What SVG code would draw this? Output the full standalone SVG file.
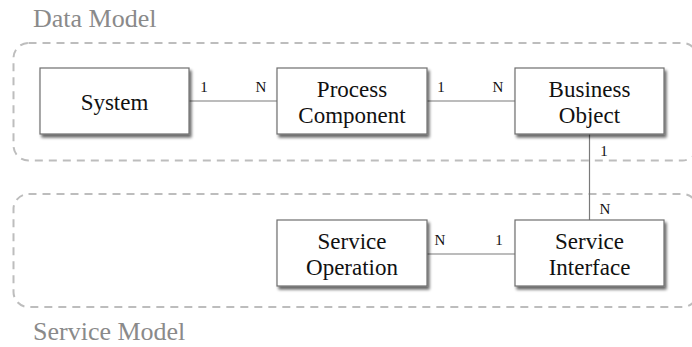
<svg xmlns="http://www.w3.org/2000/svg" width="692" height="347" viewBox="0 0 692 347">
  <defs>
    <filter id="shadow" x="-10%" y="-10%" width="130%" height="140%">
      <feGaussianBlur in="SourceAlpha" stdDeviation="1.6"/>
      <feOffset dx="2" dy="3" result="off"/>
      <feComponentTransfer><feFuncA type="linear" slope="0.6"/></feComponentTransfer>
      <feMerge><feMergeNode/><feMergeNode in="SourceGraphic"/></feMerge>
    </filter>
  </defs>
  <style>
    text { font-family: "Liberation Serif", "Times New Roman", serif; }
    .group { fill: none; stroke: #bdbdbd; stroke-width: 2; stroke-dasharray: 8 6; }
    .group-title { font-size: 26px; fill: #8a8a8a; }
    .box { fill: #ffffff; stroke: #6e6e6e; stroke-width: 1.2; filter: url(#shadow); }
    .label { font-size: 23px; fill: #111; text-anchor: middle; }
    .edge { stroke: #7a7a7a; stroke-width: 1.2; fill: none; }
    .mult { font-size: 15px; fill: #111; text-anchor: middle; }
  </style>

  <!-- group containers -->
  <g id="data-model">
    <rect class="group" x="13.5" y="43" width="684" height="117.5" rx="15"/>
    <text class="group-title" x="33" y="27">Data Model</text>
  </g>
  <g id="service-model">
    <rect class="group" x="13.5" y="194" width="684" height="113" rx="15"/>
    <text class="group-title" x="33" y="340">Service Model</text>
  </g>

  <!-- connectors -->
  <g id="connectors">
    <line class="edge" x1="189" y1="101" x2="277" y2="101"/>
    <line class="edge" x1="427" y1="101" x2="515" y2="101"/>
    <line class="edge" x1="589.5" y1="134" x2="589.5" y2="220"/>
    <line class="edge" x1="427" y1="254" x2="515" y2="254"/>
    <text class="mult" x="204" y="92">1</text>
    <text class="mult" x="261" y="92">N</text>
    <text class="mult" x="441" y="92">1</text>
    <text class="mult" x="498" y="92">N</text>
    <text class="mult" x="604" y="156">1</text>
    <text class="mult" x="605" y="214">N</text>
    <text class="mult" x="440" y="245">N</text>
    <text class="mult" x="499" y="245">1</text>
  </g>

  <!-- nodes -->
  <g id="system">
    <rect class="box" x="40" y="68" width="149" height="66"/>
    <text class="label" x="114.5" y="110">System</text>
  </g>
  <g id="process-component">
    <rect class="box" x="277" y="68" width="150" height="66"/>
    <text class="label" x="352" y="97">Process</text>
    <text class="label" x="352" y="123">Component</text>
  </g>
  <g id="business-object">
    <rect class="box" x="515" y="68" width="149" height="66"/>
    <text class="label" x="589.5" y="97">Business</text>
    <text class="label" x="589.5" y="123">Object</text>
  </g>
  <g id="service-operation">
    <rect class="box" x="277" y="220" width="150" height="66"/>
    <text class="label" x="352" y="249">Service</text>
    <text class="label" x="352" y="275">Operation</text>
  </g>
  <g id="service-interface">
    <rect class="box" x="515" y="220" width="149" height="66"/>
    <text class="label" x="589.5" y="249">Service</text>
    <text class="label" x="589.5" y="275">Interface</text>
  </g>
</svg>
